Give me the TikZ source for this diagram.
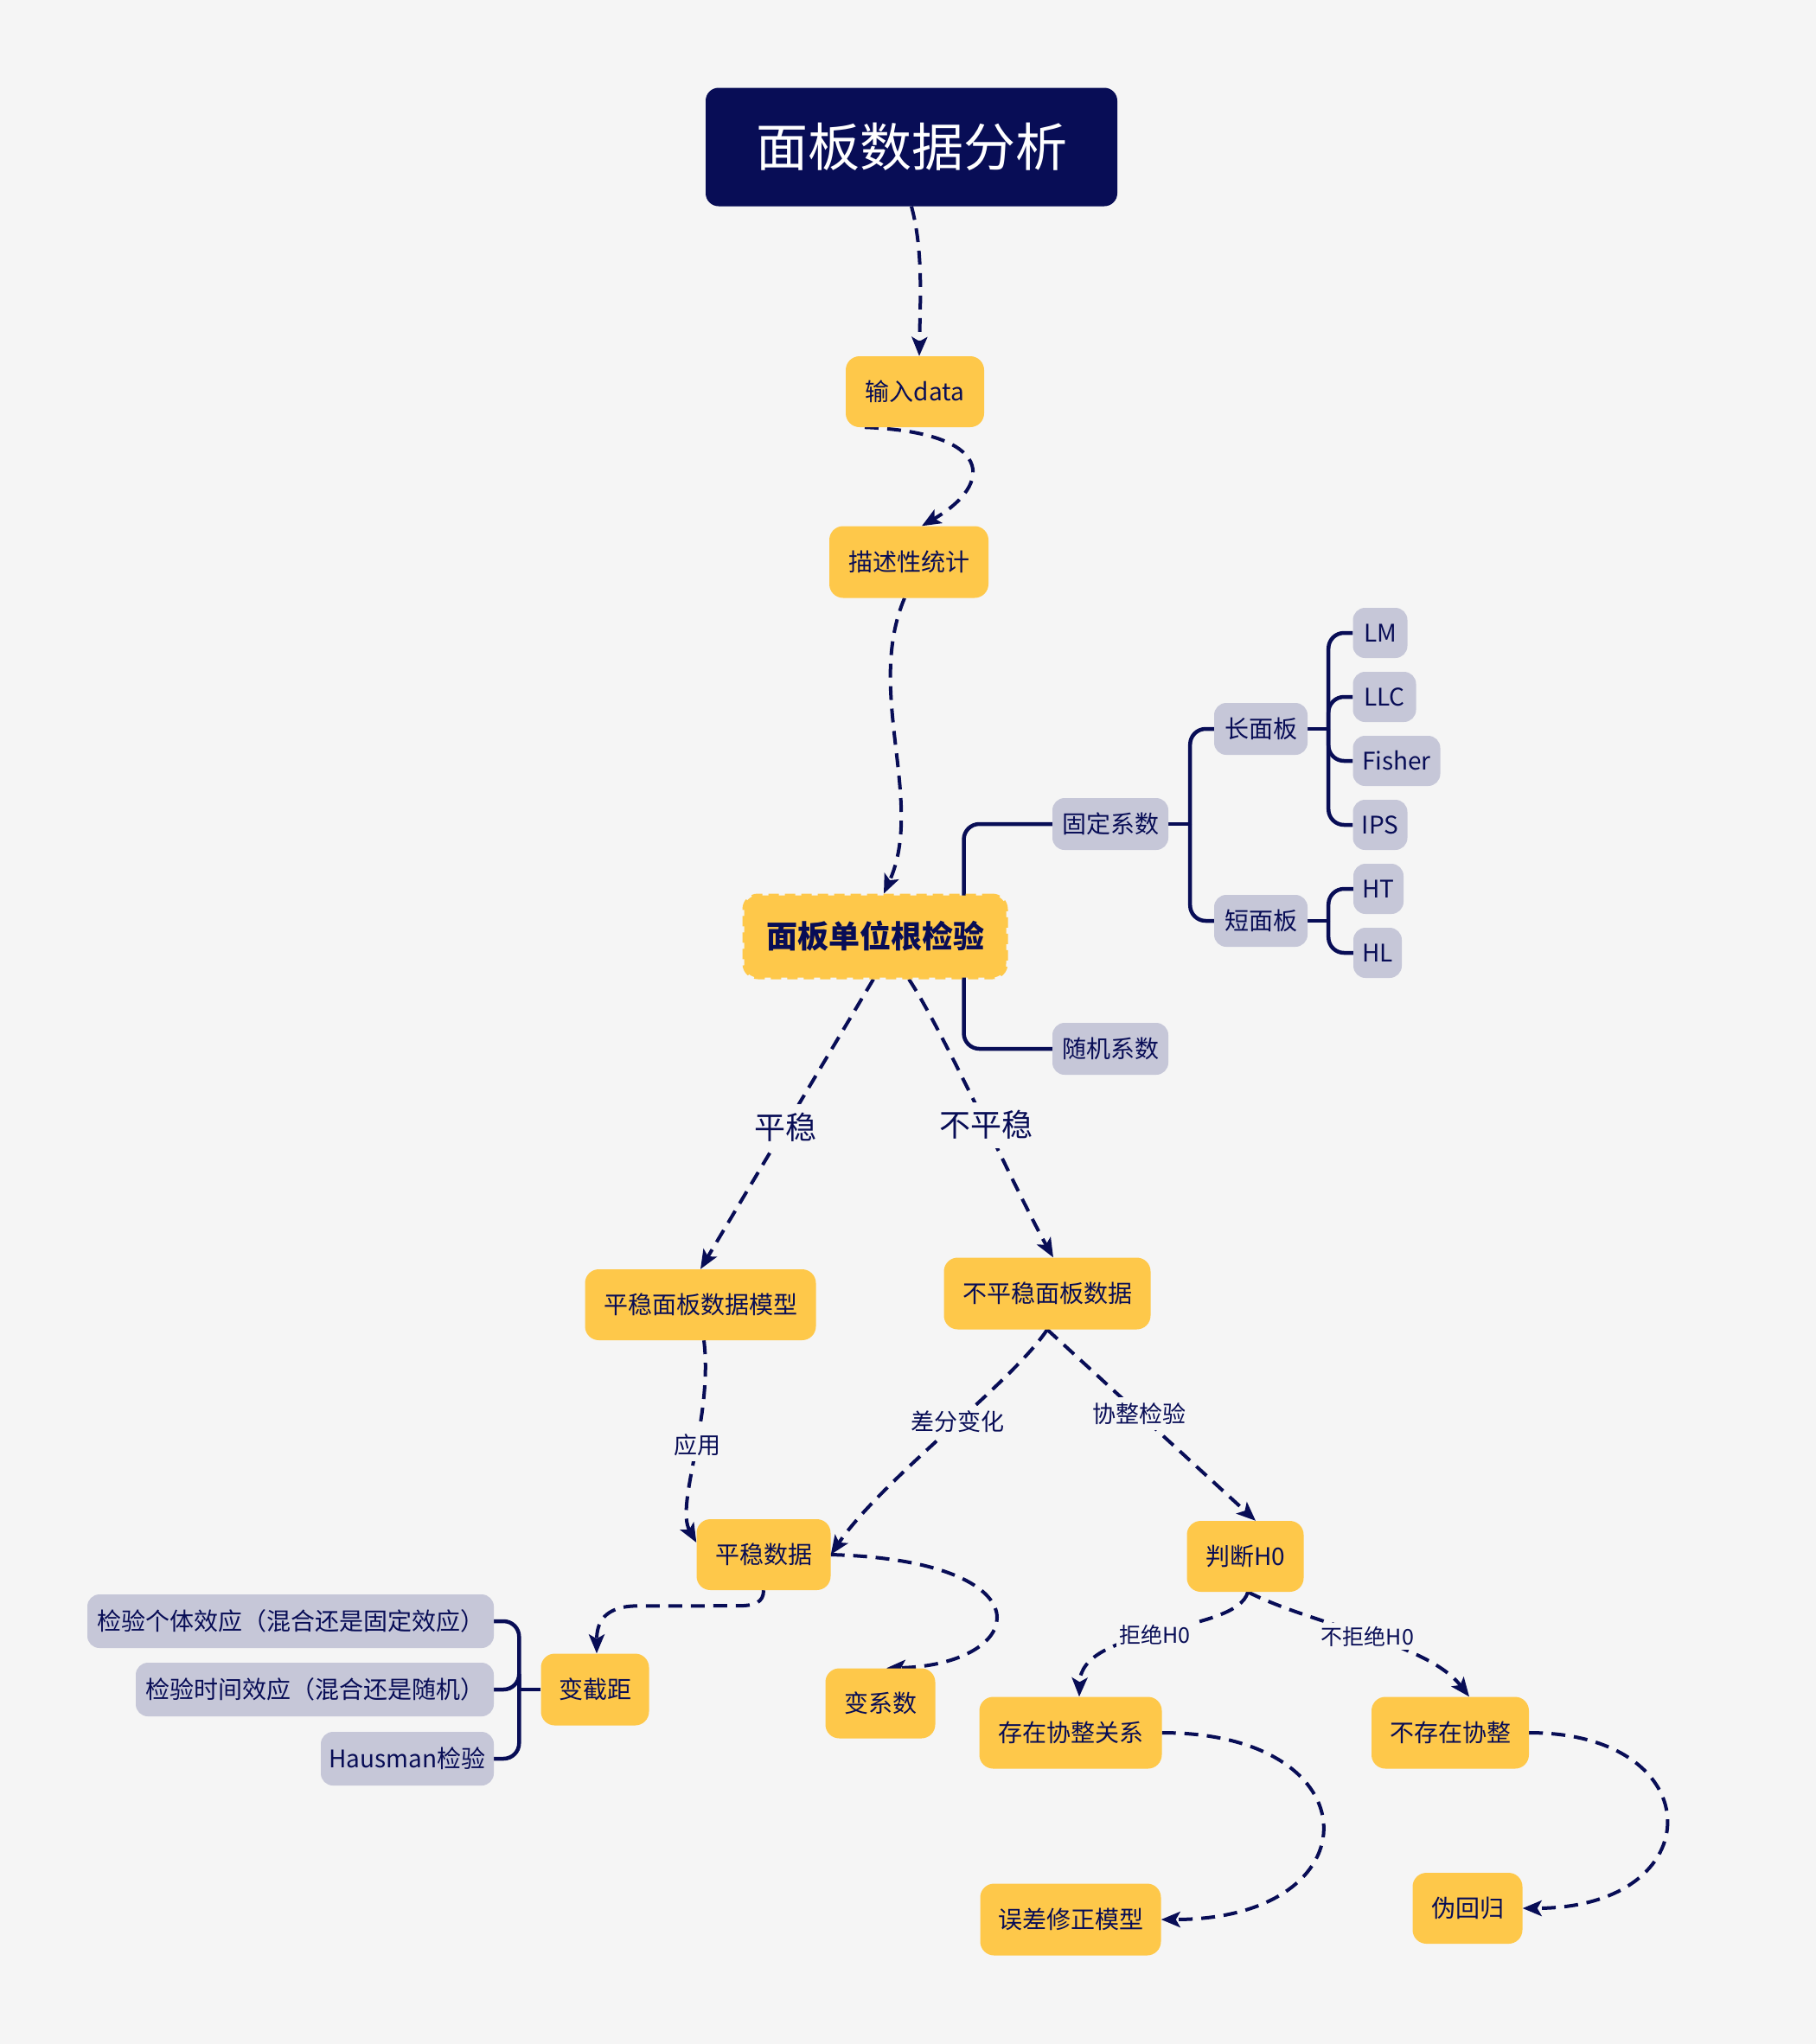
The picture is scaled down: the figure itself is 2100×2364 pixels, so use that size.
\documentclass[tikz,border=0pt]{standalone}
\usepackage{fontspec}
\setmainfont{Noto Sans CJK SC}
\usetikzlibrary{arrows.meta,backgrounds,calc}
\definecolor{navy}{HTML}{080D56}
\definecolor{ylw}{HTML}{FEC84A}
\definecolor{gry}{HTML}{C6C7D8}
\definecolor{bgc}{HTML}{F5F5F5}
\begin{document}
\begin{tikzpicture}[x=1pt,y=-1pt,
  ybox/.style={fill=ylw, rounded corners=16pt, text=navy, font=\fontsize{28}{34}\selectfont, minimum height=82pt, inner sep=0pt, align=center},
  gbox/.style={fill=gry, rounded corners=14pt, text=navy, font=\fontsize{28}{34}\selectfont, minimum height=60pt, inner sep=0pt},
  arr/.style={draw=navy, line width=4pt, dash pattern=on 16pt off 10pt, -{Stealth[length=22pt,width=18pt,inset=5pt]}},
  tree/.style={draw=navy, line width=4.5pt, rounded corners=18pt},
  biglbl/.style={fill=bgc, text=navy, inner sep=10pt, font=\fontsize{36}{42}\selectfont},
  lbl/.style={fill=bgc, text=navy, inner sep=6pt, font=\fontsize{27}{32}\selectfont},
  smlbl/.style={fill=bgc, text=navy, inner sep=4pt, font=\fontsize{25}{30}\selectfont}
]
\useasboundingbox (0,0) rectangle (2100,2364);
\begin{pgfonlayer}{background}
\fill[bgc] (0,0) rectangle (2100,2364);
\end{pgfonlayer}

% nodes
\node[fill=navy, rounded corners=15pt, text=white, font=\fontsize{60}{70}\selectfont, minimum width=476pt, minimum height=137pt, inner sep=0pt] (title) at (1054,170) {面板数据分析};
\node[ybox, minimum width=160pt] (in) at (1058,453) {输入data};
\node[ybox, minimum width=184pt, minimum height=83pt] (desc) at (1051,650) {描述性统计};
\node[ybox, minimum width=303pt, minimum height=95pt, draw=ylw, line width=4pt, dash pattern=on 12pt off 7pt, font=\fontsize{36}{42}\selectfont\bfseries] (root) at (1012,1083) {面板单位根检验};

\node[gbox, minimum width=134pt] (fixed) at (1284,953) {固定系数};
\node[gbox, minimum width=134pt] (random) at (1284,1213) {随机系数};
\node[gbox, minimum width=108pt] (long) at (1458,843) {长面板};
\node[gbox, minimum width=108pt] (short) at (1458,1065) {短面板};
\node[gbox, minimum width=63pt, minimum height=58pt] (LM) at (1596,732) {LM};
\node[gbox, minimum width=73pt, minimum height=58pt] (LLC) at (1601,806) {LLC};
\node[gbox, minimum width=101pt, minimum height=58pt] (Fisher) at (1615,880) {Fisher};
\node[gbox, minimum width=63pt, minimum height=58pt] (IPS) at (1596,954) {IPS};
\node[gbox, minimum width=58pt, minimum height=58pt] (HT) at (1594,1028) {HT};
\node[gbox, minimum width=56pt, minimum height=58pt] (HL) at (1593,1102) {HL};

\node[ybox, minimum width=267pt] (smodel) at (810,1509) {平稳面板数据模型};
\node[ybox, minimum width=239pt, minimum height=83pt] (unsdata) at (1211,1496) {不平稳面板数据};
\node[ybox, minimum width=155pt] (sdata) at (883,1798) {平稳数据};
\node[ybox, minimum width=135pt] (judge) at (1440,1800) {判断H0};
\node[ybox, minimum width=211pt, minimum height=83pt] (coint) at (1238,2004) {存在协整关系};
\node[ybox, minimum width=182pt, minimum height=83pt] (nocoint) at (1677,2004) {不存在协整};
\node[ybox, minimum width=209pt, minimum height=83pt] (ecm) at (1238,2220) {误差修正模型};
\node[ybox, minimum width=127pt] (fake) at (1697,2207) {伪回归};
\node[ybox, minimum width=127pt, minimum height=81pt] (bxs) at (1018,1970) {变系数};
\node[ybox, minimum width=125pt, minimum height=83pt] (jieju) at (688,1954) {变截距};
\node[gbox, minimum width=470pt, minimum height=62pt] (g1) at (336,1875) {检验个体效应（混合还是固定效应）};
\node[gbox, minimum width=414pt, minimum height=62pt] (g2) at (364,1954) {检验时间效应（混合还是随机）};
\node[gbox, minimum width=200pt, minimum height=62pt] (g3) at (471,2034) {Hausman检验};

\begin{pgfonlayer}{background}
% tree connectors
\coordinate (rj) at ($(root.east)+(-51,0)$);
\draw[tree] (rj) |- (fixed.west);
\draw[tree] (rj) |- (random.west);
\draw[tree] (fixed.east) -- ++(25,0) coordinate (fj);
\draw[tree] (fj) |- (long.west);
\draw[tree] (fj) |- (short.west);
\draw[tree] (long.east) -- ++(24,0) coordinate (lj);
\draw[tree] (lj) |- (LM.west);
\draw[tree] (lj) |- (LLC.west);
\draw[tree] (lj) |- (Fisher.west);
\draw[tree] (lj) |- (IPS.west);
\draw[tree] (short.east) -- ++(24,0) coordinate (sj);
\draw[tree] (sj) |- (HT.west);
\draw[tree] (sj) |- (HL.west);
\draw[tree] (jieju.west) -- ++(-25,0) coordinate (jj);
\draw[tree] (jj) |- (g1.east);
\draw[tree] (jj) |- (g2.east);
\draw[tree] (jj) |- (g3.east);

% dashed arrows
\draw[arr] (title.south) .. controls +(14,52) and +(1,-62) .. ([xshift=5pt]in.north);
\draw[arr] ([xshift=-58pt]in.south) .. controls +(150,6) and +(84,-49) .. ([xshift=15pt]desc.north);
\draw[arr] ([xshift=-5pt]desc.south) .. controls +(-46,108) and +(48,-106) .. ([xshift=10pt]root.north);
\draw[arr] ([xshift=-2pt]root.south) -- (smodel.north) node[pos=0.51, biglbl] {平稳};
\draw[arr] ([xshift=39pt]root.south) .. controls +(40,60) and +(-40,-70) .. ([xshift=7pt]unsdata.north) node[pos=0.53, biglbl] {不平稳};
\draw[arr] ([xshift=4pt]smodel.south) .. controls +(11,90) and +(-25,-44) .. ($(sdata.west)+(0,-14)$) node[pos=0.45, lbl] {应用};
\draw[arr] (unsdata.south) .. controls +(-41,62) and +(60,-88) .. (sdata.east) node[pos=0.45, lbl] {差分变化};
\draw[arr] (unsdata.south) -- ($(judge.north)+(12,0)$) node[pos=0.44, lbl] {协整检验};
\draw[arr] (sdata.south) .. controls +(0,14) and +(20,0) .. ($(sdata.south)+(-30,18)$) -- ($(jieju.north)+(50,-55)$) .. controls +(-40,0) and +(0,-35) .. ($(jieju.north)+(2,0)$);
\draw[arr] (sdata.east) .. controls +(255,7) and +(165,-4) .. ($(bxs.north)+(7,0)$);
\draw[arr] ($(judge.south)+(3,0)$) .. controls +(-13,49) and +(2,-83) .. ($(coint.north)+(10,0)$) node[pos=0.52, smlbl] {拒绝H0};
\draw[arr] ($(judge.south)+(3,0)$) .. controls +(77,39) and +(-49,-63) .. ($(nocoint.north)+(22,0)$) node[pos=0.5, smlbl] {不拒绝H0};
\draw[arr] (coint.east) .. controls +(247,0) and +(248,0) .. (ecm.east);
\draw[arr] (nocoint.east) .. controls +(212,0) and +(220,0) .. (fake.east);
\end{pgfonlayer}
\end{tikzpicture}
\end{document}
